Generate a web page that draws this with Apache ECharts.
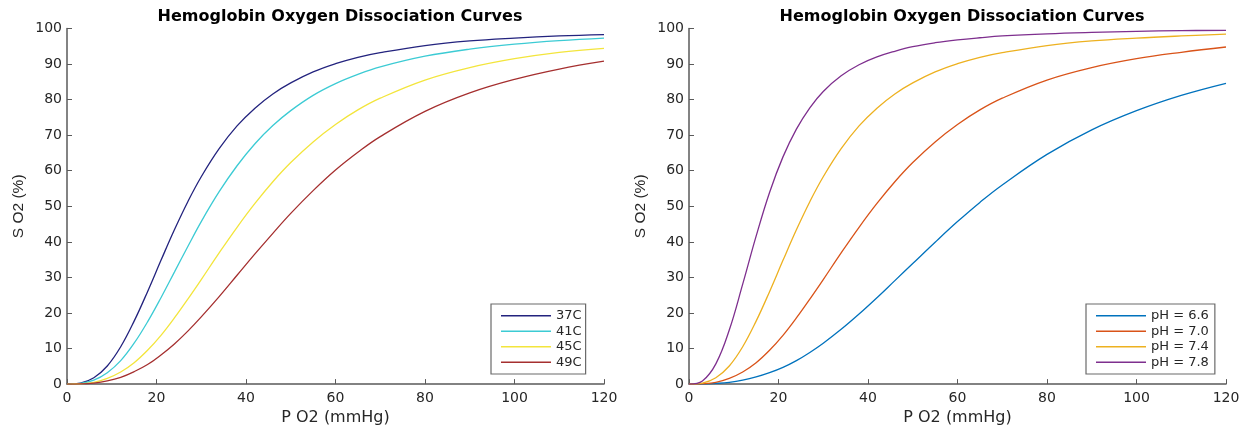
<!DOCTYPE html>
<html>
<head>
<meta charset="utf-8">
<script src="https://cdn.jsdelivr.net/npm/echarts@6/dist/echarts.min.js"></script>
<style>
html,body{margin:0;padding:0;background:#fff;}
#chart{width:1252px;height:431px;}
</style>
</head>
<body>
<div id="chart"></div>
<script>
// P O2 sample points (mmHg)
const pO2 = [0, 3, 6, 9, 12, 15, 18, 21, 24, 27, 30, 34, 38, 42, 46, 50, 55, 60, 65, 70, 80, 90, 100, 110, 120];

// Left chart: temperature curves (S O2 %)
const t37 = [0, 0.3, 1.8, 5.1, 10.5, 17.7, 26.0, 34.8, 43.4, 51.3, 58.3, 66.2, 72.6, 77.6, 81.6, 84.7, 87.8, 90.1, 91.9, 93.2, 95.2, 96.5, 97.3, 97.9, 98.3];
const t41 = [0, 0.2, 1.1, 3.2, 6.6, 11.5, 17.5, 24.3, 31.5, 38.7, 45.7, 54.1, 61.4, 67.6, 72.7, 76.9, 81.2, 84.5, 87.1, 89.2, 92.2, 94.2, 95.6, 96.6, 97.3];
const t45 = [0, 0.1, 0.5, 1.6, 3.4, 6.0, 9.5, 13.7, 18.6, 23.9, 29.4, 36.9, 44.1, 50.8, 56.9, 62.3, 68.1, 73.0, 77.1, 80.4, 85.5, 89.0, 91.5, 93.3, 94.4];
const t49 = [0, 0.05, 0.3, 0.9, 1.9, 3.5, 5.5, 8.2, 11.3, 14.9, 18.9, 24.6, 30.6, 36.6, 42.4, 48.0, 54.4, 60.2, 65.2, 69.6, 76.7, 81.9, 85.7, 88.6, 90.8];

// Right chart: pH curves (S O2 %)
const ph66 = [0, 0.03, 0.2, 0.5, 1.1, 2.0, 3.2, 4.7, 6.6, 8.9, 11.5, 15.4, 19.7, 24.3, 29.1, 33.9, 39.9, 45.7, 51.1, 56.0, 64.6, 71.5, 76.9, 81.2, 84.6];
const ph70 = [0, 0.1, 0.5, 1.6, 3.4, 6.0, 9.5, 13.7, 18.6, 23.9, 29.4, 36.9, 44.1, 50.8, 56.9, 62.3, 68.1, 73.0, 77.1, 80.4, 85.5, 89.0, 91.5, 93.3, 94.8];
const ph74 = [0, 0.3, 1.8, 5.1, 10.5, 17.7, 26.0, 34.8, 43.4, 51.3, 58.3, 66.2, 72.6, 77.6, 81.6, 84.7, 87.8, 90.1, 91.9, 93.2, 95.2, 96.5, 97.3, 97.9, 98.4];
const ph78 = [0, 0.9, 5.7, 15.2, 28.1, 41.6, 53.9, 63.9, 71.7, 77.7, 82.3, 86.7, 89.8, 92.0, 93.6, 94.9, 96.0, 96.8, 97.4, 97.9, 98.5, 98.9, 99.2, 99.4, 99.5];

const leftNames = ['37C', '41C', '45C', '49C'];
const rightNames = ['pH = 6.6', 'pH = 7.0', 'pH = 7.4', 'pH = 7.8'];

const titleText = 'Hemoglobin Oxygen Dissociation Curves';
const WIDE = '"DejaVu Sans", Verdana, sans-serif';
const NARROW = '"Liberation Sans", Arial, Helvetica, sans-serif';
const axisGray = '#5a5a5a';
const labelColor = '#262626';

function pairs(ys) { return pO2.map((x, i) => [x, ys[i]]); }

function xAxisFor(gi) {
  return {
    type: 'value', gridIndex: gi, min: 0, max: 120, interval: 20,
    name: 'P O2 (mmHg)', nameLocation: 'middle', nameGap: 21,
    nameTextStyle: { fontFamily: WIDE, fontSize: 16, color: labelColor },
    axisLine: { show: true, lineStyle: { color: axisGray, width: 1.5 } },
    axisTick: { show: true, inside: true, length: 5, lineStyle: { color: axisGray, width: 1 } },
    axisLabel: { fontFamily: WIDE, fontSize: 14, color: labelColor, margin: 7 },
    splitLine: { show: false }
  };
}
function yAxisFor(gi) {
  return {
    type: 'value', gridIndex: gi, min: 0, max: 100, interval: 10,
    name: 'S O2 (%)', nameLocation: 'middle', nameGap: 40,
    nameTextStyle: { fontFamily: NARROW, fontSize: 15.5, color: labelColor },
    axisLine: { show: true, lineStyle: { color: axisGray, width: 1.5 } },
    axisTick: { show: true, inside: true, length: 5, lineStyle: { color: axisGray, width: 1 } },
    axisLabel: { fontFamily: WIDE, fontSize: 14, color: labelColor, margin: 5 },
    splitLine: { show: false }
  };
}

function lineSeries(name, ys, color, idx) {
  return {
    name: name, type: 'line', xAxisIndex: idx, yAxisIndex: idx,
    data: pairs(ys), smooth: 0.4, showSymbol: false, symbol: 'none',
    lineStyle: { color: color, width: 1.3 }, itemStyle: { color: color },
    animation: false
  };
}

const leftColors = ['#23237e', '#3ccbd4', '#f3e53c', '#a52f2f'];
const rightColors = ['#0072BD', '#D95319', '#EDB120', '#7E2F8E'];

function legendFor(names, left, top, padding) {
  return {
    data: names, orient: 'vertical', left: left, top: top,
    icon: 'rect', itemWidth: 50, itemHeight: 1.3, itemGap: 0,
    padding: padding,
    backgroundColor: '#ffffff', borderColor: '#6a6a6a', borderWidth: 1.2,
    textStyle: { fontFamily: WIDE, fontSize: 13, color: labelColor, lineHeight: 15.5 },
    selectedMode: false
  };
}

const chart = echarts.init(document.getElementById('chart'), null, { renderer: 'canvas' });
chart.setOption({
  backgroundColor: '#ffffff',
  animation: false,
  title: [
    { text: titleText, left: 335, top: 4, textAlign: 'center',
      textStyle: { fontFamily: WIDE, fontSize: 16, fontWeight: 'bold', color: '#000' } },
    { text: titleText, left: 957, top: 4, textAlign: 'center',
      textStyle: { fontFamily: WIDE, fontSize: 16, fontWeight: 'bold', color: '#000' } }
  ],
  grid: [
    { left: 67, right: 648, top: 28.5, bottom: 46.5, containLabel: false },
    { left: 689, right: 26, top: 28.5, bottom: 46.5, containLabel: false }
  ],
  xAxis: [xAxisFor(0), xAxisFor(1)],
  yAxis: [yAxisFor(0), yAxisFor(1)],
  legend: [
    legendFor(leftNames, 491, 304, [4, 4, 4, 10]),
    legendFor(rightNames, 1086, 304, [4, 6, 4, 10])
  ],
  series: [
    lineSeries(leftNames[0], t37, leftColors[0], 0),
    lineSeries(leftNames[1], t41, leftColors[1], 0),
    lineSeries(leftNames[2], t45, leftColors[2], 0),
    lineSeries(leftNames[3], t49, leftColors[3], 0),
    lineSeries(rightNames[0], ph66, rightColors[0], 1),
    lineSeries(rightNames[1], ph70, rightColors[1], 1),
    lineSeries(rightNames[2], ph74, rightColors[2], 1),
    lineSeries(rightNames[3], ph78, rightColors[3], 1)
  ]
});
</script>
</body>
</html>
